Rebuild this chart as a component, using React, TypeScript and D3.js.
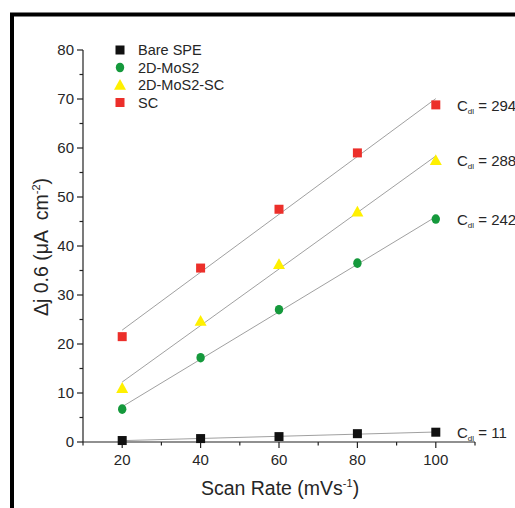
import React, { useEffect, useRef } from 'react';
import * as d3 from 'd3';

const scanRates = [20, 40, 60, 80, 100];
const bareSPE = [0.3, 0.7, 1.1, 1.7, 2.0];
const mos2 = [6.7, 17.2, 27.0, 36.5, 45.5];
const mos2SC = [11.0, 24.7, 36.3, 47.0, 57.5];
const sc = [21.5, 35.5, 47.5, 59.0, 68.8];
const cdlLabels = ['11', '242', '288', '294'];
const xTicks = [20, 40, 60, 80, 100];
const yTicks = [0, 10, 20, 30, 40, 50, 60, 70, 80];

const series = [
  { name: 'Bare SPE', values: bareSPE, color: '#111111', shape: 'square', cdl: cdlLabels[0] },
  { name: '2D-MoS2', values: mos2, color: '#15993c', shape: 'circle', cdl: cdlLabels[1] },
  { name: '2D-MoS2-SC', values: mos2SC, color: '#fff000', shape: 'triangle', cdl: cdlLabels[2] },
  { name: 'SC', values: sc, color: '#ec2f2a', shape: 'square', cdl: cdlLabels[3] },
];

const W = 515;
const H = 508;
const FONT = "'Liberation Sans', Arial, sans-serif";
const TEXT = '#262626';

function fit(xs: number[], ys: number[]) {
  const mx = d3.mean(xs)!;
  const my = d3.mean(ys)!;
  let num = 0;
  let den = 0;
  xs.forEach((x, i) => {
    num += (x - mx) * (ys[i] - my);
    den += (x - mx) * (x - mx);
  });
  const slope = num / den;
  return (x: number) => my + slope * (x - mx);
}

function drawMarker(g: any, shape: string, cx: number, cy: number, color: string) {
  if (shape === 'square') {
    const s = 9;
    g.append('rect')
      .attr('x', cx - s / 2)
      .attr('y', cy - s / 2)
      .attr('width', s)
      .attr('height', s)
      .attr('fill', color);
  } else if (shape === 'circle') {
    g.append('ellipse')
      .attr('cx', cx)
      .attr('cy', cy)
      .attr('rx', 4.2)
      .attr('ry', 4.8)
      .attr('fill', color);
  } else {
    const s = 6;
    g.append('path')
      .attr('d', `M${cx},${cy - s} L${cx + s},${cy + s * 0.8} L${cx - s},${cy + s * 0.8} Z`)
      .attr('fill', color);
  }
}

const App = () => {
  const ref = useRef<SVGSVGElement>(null);

  useEffect(() => {
    const svg = d3.select(ref.current);
    svg.selectAll('*').remove();

    svg.append('rect').attr('width', W).attr('height', H).attr('fill', '#ffffff');

    // outer frame
    svg.append('rect')
      .attr('x', 12)
      .attr('y', 14.5)
      .attr('width', 560)
      .attr('height', 560)
      .attr('fill', 'none')
      .attr('stroke', '#000')
      .attr('stroke-width', 4);

    const x = d3.scaleLinear().domain([10, 110]).range([83, 475]);
    const y = d3.scaleLinear().domain([0, 80]).range([442, 50]);

    const axis = svg.append('g').attr('stroke', '#222').attr('stroke-width', 1.2);
    // x axis
    axis.append('line').attr('x1', x(10)).attr('x2', x(110)).attr('y1', y(0)).attr('y2', y(0));
    d3.range(10, 111, 10).forEach((v) => {
      const major = xTicks.includes(v);
      axis.append('line')
        .attr('x1', x(v)).attr('x2', x(v))
        .attr('y1', y(0)).attr('y2', y(0) + (major ? 6 : 3.5));
    });
    // y axis
    axis.append('line').attr('x1', x(10)).attr('x2', x(10)).attr('y1', y(0)).attr('y2', y(80));
    d3.range(0, 81, 5).forEach((v) => {
      const major = yTicks.includes(v);
      axis.append('line')
        .attr('x1', x(10) - (major ? 6 : 3.5)).attr('x2', x(10))
        .attr('y1', y(v)).attr('y2', y(v));
    });

    svg.append('g')
      .selectAll('text')
      .data(xTicks)
      .enter()
      .append('text')
      .attr('x', (d) => x(d))
      .attr('y', y(0) + 23)
      .attr('text-anchor', 'middle')
      .attr('font-family', FONT)
      .attr('font-size', 15)
      .attr('fill', TEXT)
      .text((d) => d);

    svg.append('g')
      .selectAll('text')
      .data(yTicks)
      .enter()
      .append('text')
      .attr('x', x(10) - 9)
      .attr('y', (d) => y(d) + 5)
      .attr('text-anchor', 'end')
      .attr('font-family', FONT)
      .attr('font-size', 15)
      .attr('fill', TEXT)
      .text((d) => d);

    // axis titles
    const xt = svg.append('text')
      .attr('x', 280)
      .attr('y', 495)
      .attr('text-anchor', 'middle')
      .attr('font-family', FONT)
      .attr('font-size', 19.5)
      .attr('fill', TEXT);
    xt.append('tspan').text('Scan Rate (mVs');
    xt.append('tspan').attr('font-size', 11).attr('dy', -8).text('-1');
    xt.append('tspan').attr('dy', 8).text(')');

    const yt = svg.append('text')
      .attr('transform', `translate(48,247) rotate(-90)`)
      .attr('text-anchor', 'middle')
      .attr('font-family', FONT)
      .attr('font-size', 19.5)
      .attr('fill', TEXT);
    yt.append('tspan').text('\u0394j 0.6 (\u03bcA\u2002cm');
    yt.append('tspan').attr('font-size', 11).attr('dy', -8).text('-2');
    yt.append('tspan').attr('dy', 8).text(')');

    // fit lines
    const lineG = svg.append('g');
    series.forEach((s) => {
      const f = fit(scanRates, s.values);
      lineG.append('line')
        .attr('x1', x(scanRates[0]))
        .attr('y1', y(f(scanRates[0])))
        .attr('x2', x(scanRates[scanRates.length - 1]))
        .attr('y2', y(f(scanRates[scanRates.length - 1])))
        .attr('stroke', '#888')
        .attr('stroke-width', 0.8);
    });

    // markers
    const markG = svg.append('g');
    series.forEach((s) => {
      s.values.forEach((v, i) => drawMarker(markG, s.shape, x(scanRates[i]), y(v), s.color));
    });

    // Cdl labels
    series.forEach((s) => {
      const last = s.values[s.values.length - 1];
      const t = svg.append('text')
        .attr('x', 457)
        .attr('y', y(last) + 6)
        .attr('font-family', FONT)
        .attr('font-size', 15)
        .attr('fill', TEXT);
      t.append('tspan').text('C');
      t.append('tspan').attr('font-size', 8).attr('dy', 3).text('dl');
      t.append('tspan').attr('dy', -3).text(' = ' + s.cdl);
    });

    // legend
    const leg = svg.append('g');
    series.forEach((s, i) => {
      const ly = 50 + i * 17.5;
      drawMarker(leg, s.shape, 120, ly, s.color);
      leg.append('text')
        .attr('x', 138)
        .attr('y', ly + 5)
        .attr('font-family', FONT)
        .attr('font-size', 14.5)
        .attr('fill', TEXT)
        .text(s.name);
    });
  }, []);

  return (
    <svg
      ref={ref}
      width={W}
      height={H}
      style={{ position: 'absolute', left: 0, top: 0 }}
    />
  );
};

export default App;
